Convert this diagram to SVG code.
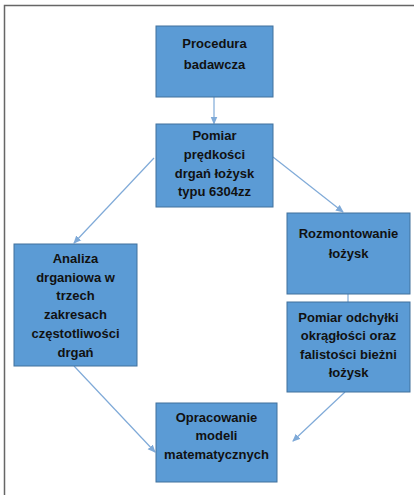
<svg xmlns="http://www.w3.org/2000/svg" width="415" height="495" viewBox="0 0 415 495">
<style>
.box{fill:#5B9BD5;stroke:#41719C;stroke-width:1}
.t{font-family:"Liberation Sans",Arial,sans-serif;font-weight:bold;font-size:13px;fill:#111;text-anchor:middle}
.c{stroke:#7FAAD8;stroke-width:1.2;fill:none}
</style>
<defs>
<marker id="ah" markerWidth="8" markerHeight="8" refX="7" refY="4" orient="auto" markerUnits="userSpaceOnUse">
<path d="M0,0.5 L8,4 L0,7.5 Z" fill="#7FAAD8"/>
</marker>
</defs>
<rect width="415" height="495" fill="#fff"/>
<path d="M4.5,495 V5.5 H414" fill="none" stroke="#666" stroke-width="1.5"/>
<g id="connectors">
<line class="c" x1="214" y1="97" x2="214" y2="123.5" marker-end="url(#ah)"/>
<line class="c" x1="154" y1="158" x2="74" y2="243" marker-end="url(#ah)"/>
<line class="c" x1="273" y1="157" x2="343" y2="212" marker-end="url(#ah)"/>
<line class="c" x1="348" y1="294" x2="348" y2="302"/>
<line class="c" x1="74" y1="366" x2="155" y2="452" marker-end="url(#ah)"/>
<line class="c" x1="345" y1="392" x2="293" y2="441" marker-end="url(#ah)"/>
</g>
<g id="n1">
<rect class="box" x="156" y="26" width="117" height="71"/>
<text class="t" x="214.5" y="48">Procedura</text>
<text class="t" x="214.5" y="69">badawcza</text>
</g>
<g id="n2">
<rect class="box" x="156" y="124" width="117" height="83"/>
<text class="t" x="214.5" y="140">Pomiar</text>
<text class="t" x="214.5" y="159">prędkości</text>
<text class="t" x="214.5" y="178">drgań łożysk</text>
<text class="t" x="214.5" y="196">typu 6304zz</text>
</g>
<g id="n3">
<rect class="box" x="14" y="244" width="123" height="122"/>
<text class="t" x="75.5" y="263">Analiza</text>
<text class="t" x="75.5" y="282">drganiowa w</text>
<text class="t" x="75.5" y="300">trzech</text>
<text class="t" x="75.5" y="319">zakresach</text>
<text class="t" x="75.5" y="338">częstotliwości</text>
<text class="t" x="75.5" y="356.5">drgań</text>
</g>
<g id="n4">
<rect class="box" x="287" y="213" width="123" height="81"/>
<text class="t" x="348.5" y="238">Rozmontowanie</text>
<text class="t" x="348.5" y="258">łożysk</text>
</g>
<g id="n5">
<rect class="box" x="287" y="302" width="123" height="90"/>
<text class="t" x="348.5" y="322">Pomiar odchyłki</text>
<text class="t" x="348.5" y="340">okrągłości oraz</text>
<text class="t" x="348.5" y="358.5">falistości bieżni</text>
<text class="t" x="348.5" y="377">łożysk</text>
</g>
<g id="n6">
<rect class="box" x="156" y="403" width="121" height="79"/>
<text class="t" x="216.5" y="422">Opracowanie</text>
<text class="t" x="216.5" y="440">modeli</text>
<text class="t" x="216.5" y="459">matematycznych</text>
</g>
</svg>
